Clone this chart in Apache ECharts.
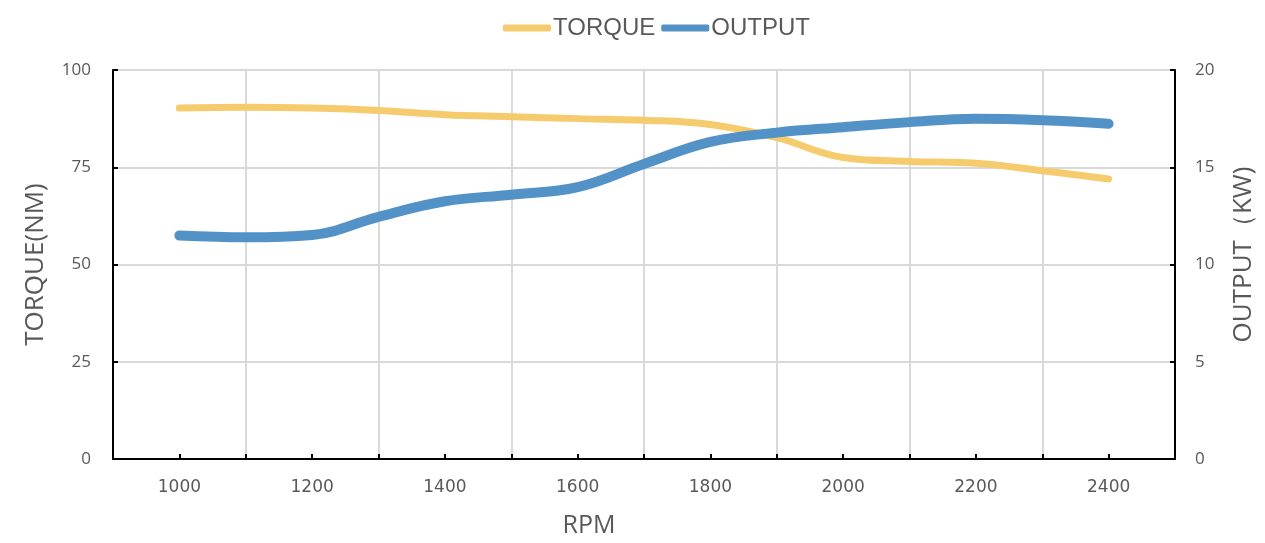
<!DOCTYPE html>
<html>
<head>
<meta charset="utf-8">
<script src="https://cdn.jsdelivr.net/npm/echarts@6/dist/echarts.min.js"></script>
<style>html,body{margin:0;padding:0;background:#fff;overflow:hidden}#c{width:1265px;height:543px}</style>
</head>
<body>
<div id="c"></div>
<script>
const rpm = [1000,1100,1200,1300,1400,1500,1600,1700,1800,1900,2000,2100,2200,2300,2400];
const torque = [90.2,90.4,90.2,89.6,88.5,88.0,87.5,87.1,86.0,82.6,77.5,76.5,76.0,74.1,72.0];
const output = [11.49,11.40,11.52,12.45,13.25,13.59,13.98,15.17,16.30,16.78,17.06,17.32,17.49,17.42,17.24];
const rpmLabels = ['1000','1200','1400','1600','1800','2000','2200','2400'];
const leftTicks = {min:0, max:100, interval:25};
const rightTicks = {min:0, max:20, interval:5};

const FONT = "'Open Sans', 'Noto Sans', sans-serif";
const GRAY = '#595959';
const chart = echarts.init(document.getElementById('c'));
chart.setOption({
  animation:false,
  textStyle:{fontFamily:FONT},
  legend:{
    top:11, left:498, itemGap:6, itemWidth:48, itemHeight:7, icon:'roundRect',
    textStyle:{fontSize:24, color:GRAY, fontFamily:"'Liberation Sans', Arial, sans-serif", padding:[0,0,0,-3]},
    data:['TORQUE','OUTPUT']
  },
  grid:{left:113, right:82, top:70, bottom:80, containLabel:false},
  xAxis:[
    {
      type:'value', min:900, max:2500, interval:100,
      name:'RPM', nameLocation:'middle', nameGap:54,
      nameTextStyle:{fontSize:25, color:GRAY, padding:[0,110,0,0]},
      axisLine:{show:true, onZero:false, lineStyle:{color:'#000', width:2}},
      axisTick:{show:true, inside:true, length:5, lineStyle:{color:'#000', width:2}},
      axisLabel:{color:GRAY, fontSize:17, margin:20, fontFamily:"'DejaVu Sans', sans-serif",
        formatter:function(v){ return rpmLabels.indexOf(String(v))>=0 ? String(v) : ''; }},
      splitLine:{show:false}
    },
    {
      type:'category', data:rpmLabels, boundaryGap:true, position:'bottom',
      axisLine:{show:false}, axisTick:{show:false}, axisLabel:{show:false},
      splitLine:{show:true, interval:0, lineStyle:{color:'#d9d9d9', width:2}}
    }
  ],
  yAxis:[
    {
      type:'value', min:leftTicks.min, max:leftTicks.max, interval:leftTicks.interval,
      name:'TORQUE(NM)', nameLocation:'middle', nameGap:64, nameRotate:90,
      nameTextStyle:{fontSize:26, color:GRAY},
      axisLine:{show:true, lineStyle:{color:'#000', width:2}},
      axisTick:{show:true, inside:true, length:5, lineStyle:{color:'#000', width:2}},
      axisLabel:{color:GRAY, fontSize:17, margin:22},
      splitLine:{show:true, lineStyle:{color:'#d9d9d9', width:2}}
    },
    {
      type:'value', min:rightTicks.min, max:rightTicks.max, interval:rightTicks.interval,
      position:'right',
      name:'OUTPUT（KW)', nameLocation:'middle', nameGap:56, nameRotate:90,
      nameTextStyle:{fontSize:26, color:GRAY, padding:[0,0,0,20]},
      axisLine:{show:true, lineStyle:{color:'#000', width:2}},
      axisTick:{show:true, inside:true, length:5, lineStyle:{color:'#000', width:2}},
      axisLabel:{color:GRAY, fontSize:17, margin:20},
      splitLine:{show:false}
    }
  ],
  series:[
    {
      name:'TORQUE', type:'line', xAxisIndex:0, yAxisIndex:0, smooth:0.4,
      showSymbol:false, symbol:'none',
      itemStyle:{color:'#F6CB6E'},
      lineStyle:{color:'#F6CB6E', width:7, cap:'round', join:'round'},
      data:rpm.map((r,i)=>[r, torque[i]])
    },
    {
      name:'OUTPUT', type:'line', xAxisIndex:0, yAxisIndex:1, smooth:0.4,
      showSymbol:false, symbol:'none',
      itemStyle:{color:'#5292C7'},
      lineStyle:{color:'#5292C7', width:10, cap:'round', join:'round'},
      data:rpm.map((r,i)=>[r, output[i]])
    }
  ]
});
</script>
</body>
</html>
